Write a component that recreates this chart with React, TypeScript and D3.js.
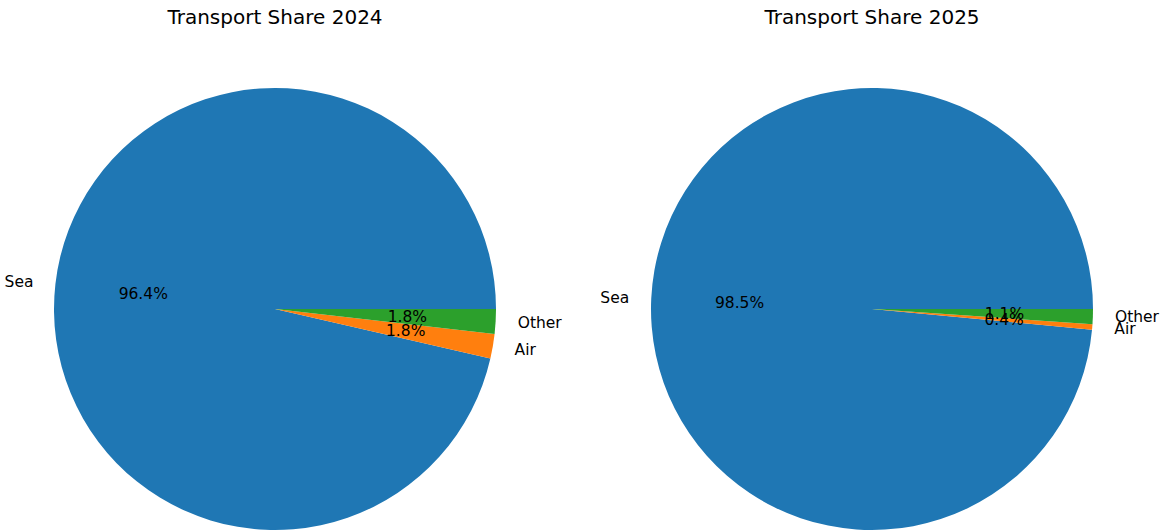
import React from "react";
import * as d3 from "d3";

const categories = ["Sea", "Air", "Other"];
const values2024 = [96.4, 1.8, 1.8];
const values2025 = [98.5, 0.4, 1.1];
const titles = ["Transport Share 2024", "Transport Share 2025"];
const colors = ["#1f77b4", "#ff7f0e", "#2ca02c"];

const W = 1161;
const H = 532;
const R = 221;
const centers = [
  { cx: 275, cy: 309 },
  { cx: 872, cy: 309 },
];
const FONT = "DejaVu Sans, sans-serif";

function Pie({ values, title, cx, cy }: { values: number[]; title: string; cx: number; cy: number }) {
  const data = categories.map((c, i) => ({ c, v: values[i], i }));
  const pie = d3
    .pie<{ c: string; v: number; i: number }>()
    .value((d) => d.v)
    .sort(null)
    .startAngle(Math.PI / 2)
    .endAngle(Math.PI / 2 - 2 * Math.PI);
  const arcs = pie(data);
  const arc = d3.arc<d3.PieArcDatum<{ c: string; v: number; i: number }>>().innerRadius(0).outerRadius(R);
  const total = d3.sum(values);
  return (
    <g>
      <text x={cx} y={24} textAnchor="middle" fontSize={20} fontFamily={FONT} fill="#000">
        {title}
      </text>
      <g transform={`translate(${cx},${cy})`}>
        {arcs.map((a) => (
          <path key={a.data.c} d={arc(a) || ""} fill={colors[a.data.i]} />
        ))}
        {arcs.map((a) => {
          const m = (a.startAngle + a.endAngle) / 2;
          const lx = 1.1 * R * Math.sin(m);
          const ly = -1.1 * R * Math.cos(m);
          const px = 0.6 * R * Math.sin(m);
          const py = -0.6 * R * Math.cos(m);
          return (
            <g key={"t" + a.data.c}>
              <text
                x={lx}
                y={ly}
                textAnchor={lx > 0 ? "start" : "end"}
                dominantBaseline="central"
                fontSize={15.5}
                fontFamily={FONT}
                fill="#000"
              >
                {a.data.c}
              </text>
              <text
                x={px}
                y={py}
                textAnchor="middle"
                dominantBaseline="central"
                fontSize={15.5}
                fontFamily={FONT}
                fill="#000"
              >
                {((a.data.v / total) * 100).toFixed(1) + "%"}
              </text>
            </g>
          );
        })}
      </g>
    </g>
  );
}

export default function App() {
  return (
    <svg width={W} height={H} style={{ position: "absolute", left: 0, top: 0, background: "#fff" }}>
      <rect x={0} y={0} width={W} height={H} fill="#fff" />
      <Pie values={values2024} title={titles[0]} cx={centers[0].cx} cy={centers[0].cy} />
      <Pie values={values2025} title={titles[1]} cx={centers[1].cx} cy={centers[1].cy} />
    </svg>
  );
}
